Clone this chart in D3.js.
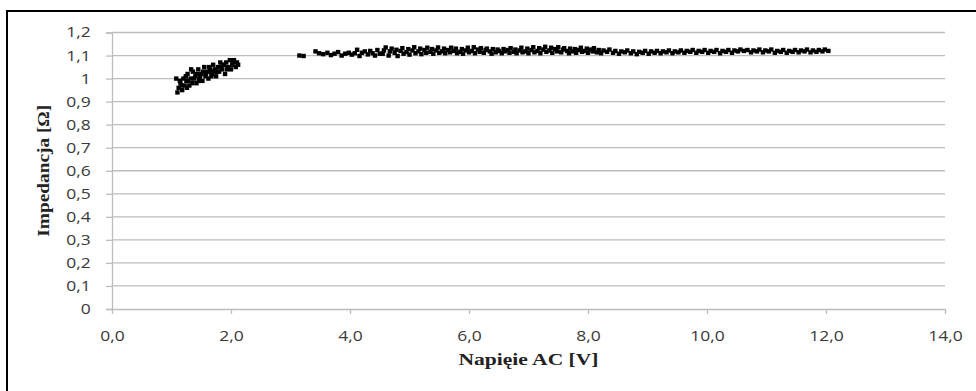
<!DOCTYPE html>
<html>
<head>
<meta charset="utf-8">
<script src="https://cdn.jsdelivr.net/npm/d3@7"></script>
<style>
  html, body { margin: 0; padding: 0; background: #fff; }
  svg { display: block; }
</style>
</head>
<body>
<div id="chart"></div>
<script>
// tick labels
const xTicks = [0, 2, 4, 6, 8, 10, 12, 14];
const yTicks = [0, 0.1, 0.2, 0.3, 0.4, 0.5, 0.6, 0.7, 0.8, 0.9, 1, 1.1, 1.2];

// low-voltage cluster [V, Ω]
const lowCluster = [
  [1.08,1.00],[1.10,0.94],[1.12,0.96],[1.14,0.99],[1.15,0.98],[1.17,0.97],[1.18,0.95],[1.20,1.00],
  [1.22,0.97],[1.24,1.01],[1.25,0.99],[1.27,1.02],[1.28,0.99],[1.30,0.97],[1.32,1.00],[1.33,1.04],
  [1.35,0.98],[1.36,1.03],[1.38,1.00],[1.40,1.01],[1.42,0.98],[1.43,1.02],[1.45,1.04],[1.47,1.00],
  [1.48,1.01],[1.50,1.02],[1.52,0.99],[1.53,1.03],[1.55,1.05],[1.57,1.01],[1.58,1.02],[1.60,1.03],
  [1.62,1.00],[1.63,1.05],[1.65,1.04],[1.67,1.01],[1.68,1.02],[1.70,1.06],[1.72,1.03],[1.73,1.04],
  [1.75,1.01],[1.77,1.03],[1.78,1.05],[1.80,1.03],[1.82,1.07],[1.83,1.05],[1.85,1.04],[1.88,1.06],
  [1.90,1.02],[1.92,1.07],[1.93,1.04],[1.95,1.05],[1.98,1.08],[2.00,1.04],[2.02,1.06],[2.03,1.07],
  [2.05,1.08],[2.08,1.05],[2.10,1.07],[2.12,1.06],[1.26,0.96],[1.46,0.99],[1.66,1.03],[1.86,1.06]
];

// start of the upper band
const bandStart = [
  [3.15,1.100],[3.22,1.098],[3.42,1.118],[3.48,1.110],[3.55,1.106],[3.62,1.112],[3.68,1.102],
  [3.74,1.108],[3.80,1.115],[3.86,1.100],[3.92,1.108],[3.98,1.112],[4.03,1.104],[4.08,1.110],
  [4.12,1.125],[4.16,1.098],[4.20,1.112],[4.25,1.118],[4.30,1.105],[4.34,1.120],[4.38,1.110],
  [4.42,1.100],[4.46,1.124],[4.50,1.108]
];

// dense middle of the band
const bandMid = [
  [4.55,1.108],[4.57,1.122],[4.60,1.135],[4.65,1.100],[4.67,1.118],[4.70,1.130],
  [4.75,1.112],[4.78,1.125],[4.80,1.098],[4.85,1.120],[4.88,1.132],[4.90,1.108],
  [4.95,1.115],[4.98,1.128],[5.00,1.104],[5.05,1.122],[5.08,1.136],[5.10,1.110],
  [5.15,1.118],[5.18,1.130],[5.20,1.106],[5.25,1.124],[5.28,1.112],[5.30,1.134],
  [5.35,1.116],[5.38,1.128],[5.40,1.108],[5.45,1.122],[5.48,1.135],[5.50,1.112],
  [5.55,1.118],[5.58,1.130],[5.60,1.110],[5.65,1.124],[5.68,1.114],[5.70,1.134],
  [5.75,1.120],[5.78,1.130],[5.80,1.110],[5.85,1.116],[5.88,1.128],[5.90,1.108],
  [5.95,1.122],[5.98,1.134],[6.00,1.114],[6.05,1.120],[6.08,1.136],[6.10,1.110],
  [6.15,1.126],[6.18,1.116],[6.20,1.132],[6.25,1.112],[6.28,1.124],[6.30,1.130],
  [6.35,1.118],[6.38,1.108],[6.40,1.128],[6.45,1.114],[6.48,1.126],[6.50,1.120],
  [6.55,1.110],[6.58,1.128],[6.60,1.118],[6.65,1.124],[6.68,1.112],[6.70,1.132],
  [6.75,1.116],[6.78,1.126],[6.80,1.110],[6.85,1.122],[6.88,1.134],[6.90,1.114],
  [6.95,1.118],[6.98,1.130],[7.00,1.110],[7.05,1.124],[7.08,1.136],[7.10,1.114],
  [7.15,1.120],[7.18,1.132],[7.20,1.110],[7.25,1.126],[7.28,1.138],[7.30,1.116],
  [7.35,1.122],[7.38,1.134],[7.40,1.112],[7.45,1.128],[7.48,1.118],[7.50,1.136],
  [7.55,1.114],[7.58,1.126],[7.60,1.132],[7.65,1.120],[7.68,1.110],[7.70,1.130],
  [7.75,1.118],[7.78,1.128],[7.80,1.112],[7.85,1.124],[7.88,1.134],[7.90,1.116],
  [7.95,1.120],[7.98,1.130],[8.00,1.112],[8.05,1.126],[8.08,1.118],[8.10,1.132],
  [8.15,1.114],[8.18,1.124]
];

// thinner end of the band
const bandEnd = [
  [8.22,1.110],[8.26,1.122],[8.32,1.116],[8.36,1.126],[8.42,1.112],[8.46,1.120],[8.52,1.108],
  [8.56,1.118],[8.62,1.114],[8.66,1.122],[8.72,1.110],[8.76,1.118],[8.82,1.106],[8.86,1.116],
  [8.92,1.112],[8.96,1.120],[9.02,1.108],[9.06,1.118],[9.12,1.112],[9.16,1.120],[9.22,1.110],
  [9.26,1.118],[9.32,1.114],[9.36,1.122],[9.42,1.110],[9.46,1.118],[9.52,1.114],[9.56,1.122],
  [9.62,1.112],[9.66,1.120],[9.72,1.116],[9.76,1.124],[9.82,1.112],[9.86,1.120],[9.92,1.116],
  [9.96,1.124],[10.02,1.112],[10.06,1.120],[10.12,1.116],[10.16,1.124],[10.22,1.110],[10.26,1.120],
  [10.32,1.116],[10.36,1.124],[10.42,1.112],[10.46,1.122],[10.52,1.118],[10.56,1.126],[10.62,1.120],
  [10.68,1.124],[10.74,1.114],[10.78,1.122],[10.84,1.118],[10.88,1.126],[10.94,1.114],[10.98,1.122],
  [11.04,1.118],[11.08,1.126],[11.14,1.112],[11.18,1.120],[11.24,1.116],[11.28,1.124],[11.34,1.112],
  [11.38,1.120],[11.44,1.116],[11.48,1.124],[11.54,1.114],[11.58,1.122],[11.64,1.118],[11.68,1.126],
  [11.74,1.114],[11.78,1.122],[11.84,1.116],[11.88,1.124],[11.94,1.118],[11.98,1.126],[12.04,1.120]
];

const width = 976, height = 391;
const margin = {top: 32.5, right: 31, bottom: 82, left: 112};
const w = width - margin.left - margin.right;
const h = height - margin.top - margin.bottom;
const grid = '#bdbdbd';
const fmt = v => d3.format('.1f')(v).replace('.', ',');
const fmtY = v => String(+v.toFixed(1)).replace('.', ',');

const svg = d3.select('#chart').append('svg')
  .attr('width', width)
  .attr('height', height);

// outer frame (bottom and right fall outside the picture)
svg.append('rect')
  .attr('x', 7).attr('y', 11)
  .attr('width', 980).attr('height', 400)
  .attr('fill', 'none')
  .attr('stroke', '#000')
  .attr('stroke-width', 2);

const g = svg.append('g').attr('transform', `translate(${margin.left},${margin.top})`);

const x = d3.scaleLinear().domain([0, 14]).range([0, w]);
const y = d3.scaleLinear().domain([0, 1.2]).range([h, 0]);

// horizontal gridlines
g.append('g')
  .selectAll('line')
  .data(yTicks.slice(1))
  .join('line')
    .attr('x1', 0).attr('x2', w)
    .attr('y1', d => y(d)).attr('y2', d => y(d))
    .attr('stroke', grid)
    .attr('stroke-width', 1.3);

const yAxis = g.append('g')
  .call(d3.axisLeft(y).tickValues(yTicks).tickSize(6).tickPadding(15).tickFormat(fmtY));
yAxis.selectAll('path, line').attr('stroke', grid).attr('stroke-width', 1.3);
yAxis.selectAll('text')
  .attr('font-family', '"Open Sans", sans-serif')
  .attr('font-size', 14)
  .attr('fill', '#3a3a3a')
  .attr('transform', 'scale(1.25,1)')
  .attr('x', -17);

const xAxis = g.append('g')
  .attr('transform', `translate(0,${h})`)
  .call(d3.axisBottom(x).tickValues(xTicks).tickSize(5).tickSizeOuter(0).tickPadding(17).tickFormat(fmt));
xAxis.selectAll('path, line').attr('stroke', grid).attr('stroke-width', 1.3);
xAxis.selectAll('text')
  .attr('font-family', '"Open Sans", sans-serif')
  .attr('font-size', 14)
  .attr('fill', '#3a3a3a')
  .attr('transform', 'scale(1.25,1)');

// points
const all = [lowCluster, bandStart, bandMid, bandEnd];
const s = 4.4;
all.forEach(series => {
  g.append('g')
    .selectAll('rect')
    .data(series)
    .join('rect')
      .attr('x', d => x(d[0]) - s / 2)
      .attr('y', d => y(d[1]) - s / 2)
      .attr('width', s)
      .attr('height', s)
      .attr('fill', '#000');
});

// axis titles
svg.append('text')
  .attr('x', margin.left + w / 2)
  .attr('y', 365)
  .attr('text-anchor', 'middle')
  .attr('font-family', '"Liberation Serif", "Times New Roman", serif')
  .attr('font-weight', 'bold')
  .attr('font-size', 17)
  .attr('textLength', 140)
  .attr('lengthAdjust', 'spacingAndGlyphs')
  .attr('fill', '#222')
  .text('Napięie AC [V]');

svg.append('text')
  .attr('transform', `translate(49,${margin.top + h / 2}) rotate(-90)`)
  .attr('text-anchor', 'middle')
  .attr('font-family', '"Liberation Serif", "Times New Roman", serif')
  .attr('font-weight', 'bold')
  .attr('font-size', 17)
  .attr('textLength', 132)
  .attr('lengthAdjust', 'spacingAndGlyphs')
  .attr('fill', '#222')
  .text('Impedancja [Ω]');
</script>
</body>
</html>
